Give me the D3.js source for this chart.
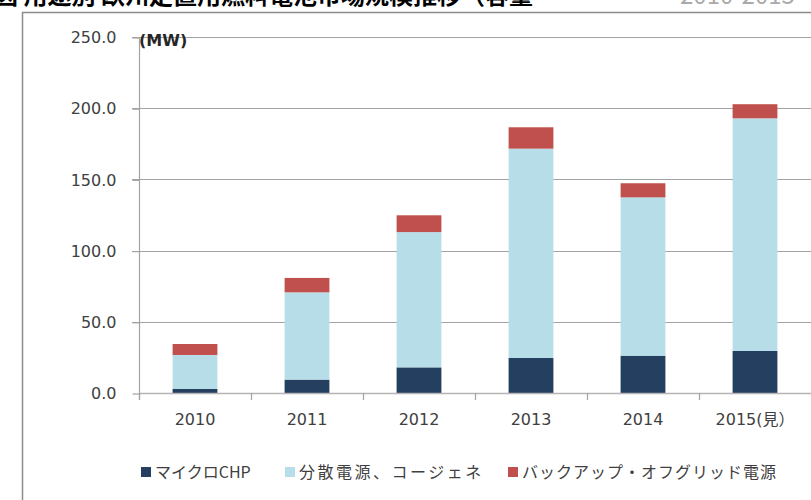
<!DOCTYPE html>
<html>
<head>
<meta charset="utf-8">
<script src="https://cdn.jsdelivr.net/npm/d3@7"></script>
<style>
  body { margin: 0; background: #fff; }
  svg { display: block; }
</style>
</head>
<body>
<script>
var years = ["2010", "2011", "2012", "2013", "2014", "2015(見）"];
var microChp = [2.8, 9.4, 18.0, 24.6, 26.2, 29.5];
var distributed = [23.9, 61.3, 95.0, 147.0, 111.2, 163.4];
var backup = [7.7, 10.1, 11.8, 15.0, 9.9, 9.9];
var seriesNames = ["マイクロCHP", "分散電源、コージェネ", "バックアップ・オフグリッド電源"];
var seriesColors = ["#243f60", "#b7dee8", "#c0504d"];
var yTicks = [0, 50, 100, 150, 200, 250];

var width = 811, height = 500;
var svg = d3.select("body").append("svg").attr("width", width).attr("height", height);

// title, cut off at the top edge like the source image
svg.append("text").attr("x", -6).attr("y", 4)
  .attr("font-family", "Noto Sans CJK JP").attr("font-weight", "bold").attr("font-size", 24)
  .attr("fill", "#000")
  .text("図 用途別 欧州定置用燃料電池市場規模推移（容量");
svg.append("text").attr("x", 680).attr("y", 4)
  .attr("font-family", "Noto Sans CJK JP").attr("font-size", 24)
  .attr("fill", "#aaa")
  .text("2010-2015");

// outer frame
svg.append("path").attr("d", "M22.5,520V12.5H830")
  .attr("fill", "none").attr("stroke", "#8c8c8c").attr("stroke-width", 1.5);

var plotLeft = 139, plotTop = 37, plotBottom = 393, plotRight = 811;

var x = d3.scaleBand().domain(years).range([plotLeft, plotRight]).paddingInner(0.6).paddingOuter(0.3);
var xOuter = d3.scaleBand().domain(years).range([plotLeft, plotRight]);
var y = d3.scaleLinear().domain([0, 250]).range([plotBottom, plotTop]);

var rows = years.map(function(d, i) {
  return { year: d, micro: microChp[i], dist: distributed[i], backup: backup[i] };
});
var stack = d3.stack().keys(["micro", "dist", "backup"]);
var layers = stack(rows);

var fontNum = "DejaVu Sans";
var textColor = "#404040";

// gridlines
svg.append("g").selectAll("line").data(yTicks.filter(function(d){ return d > 0; })).enter()
  .append("line")
  .attr("x1", plotLeft - 7).attr("x2", plotRight)
  .attr("y1", function(d){ return Math.round(y(d)) + 0.5; })
  .attr("y2", function(d){ return Math.round(y(d)) + 0.5; })
  .attr("stroke", "#a3a3a3").attr("stroke-width", 1.2);

// y axis
var yAxis = d3.axisLeft(y).tickValues(yTicks).tickSize(7).tickPadding(16)
  .tickFormat(function(d){ return d3.format(".1f")(d); });
var gy = svg.append("g").attr("transform", "translate(" + (plotLeft + 0.5) + ",0.5)").call(yAxis);
gy.select(".domain").remove();
gy.selectAll(".tick line").attr("stroke", "#a3a3a3").attr("stroke-width", 1.2);
gy.selectAll(".tick text").attr("font-family", fontNum).attr("font-size", 16).attr("fill", textColor);
svg.append("line").attr("x1", plotLeft + 0.5).attr("x2", plotLeft + 0.5).attr("y1", plotTop).attr("y2", plotBottom + 7)
  .attr("stroke", "#a3a3a3").attr("stroke-width", 1.2);

// bars
svg.append("g").selectAll("g").data(layers).enter().append("g")
  .attr("fill", function(d, i){ return seriesColors[i]; })
  .selectAll("rect").data(function(d){ return d; }).enter().append("rect")
  .attr("x", function(d){ return x(d.data.year); })
  .attr("width", x.bandwidth())
  .attr("y", function(d){ return y(d[1]); })
  .attr("height", function(d){ return y(d[0]) - y(d[1]); });

// x axis
svg.append("line").attr("x1", plotLeft).attr("x2", plotRight).attr("y1", plotBottom + 0.5).attr("y2", plotBottom + 0.5)
  .attr("stroke", "#b5b5b5").attr("stroke-width", 1.5);
svg.append("g").selectAll("line").data(years).enter().append("line")
  .attr("x1", function(d){ return Math.round(xOuter(d)) + 0.5; })
  .attr("x2", function(d){ return Math.round(xOuter(d)) + 0.5; })
  .attr("y1", plotBottom).attr("y2", plotBottom + 7)
  .attr("stroke", "#a3a3a3").attr("stroke-width", 1.2);
svg.append("g").selectAll("text").data(years).enter().append("text")
  .attr("x", function(d){ return xOuter(d) + xOuter.bandwidth() / 2; })
  .attr("y", 425)
  .attr("text-anchor", "middle")
  .attr("font-family", fontNum + ", Noto Sans CJK JP").attr("font-size", 16).attr("fill", textColor)
  .text(function(d){ return d; });

// unit label
svg.append("text").attr("x", 139).attr("y", 46)
  .attr("font-family", fontNum).attr("font-weight", "bold").attr("font-size", 16).attr("fill", "#262626")
  .text("(MW)");

// legend
var legendX = [141, 285, 508];
var legend = svg.append("g").selectAll("g").data(seriesNames).enter().append("g")
  .attr("transform", function(d, i){ return "translate(" + legendX[i] + ",467)"; });
legend.append("rect").attr("width", 10).attr("height", 10)
  .attr("fill", function(d, i){ return seriesColors[i]; });
legend.append("text").attr("x", 14).attr("y", 10.5)
  .attr("font-family", "Noto Sans CJK JP").attr("font-size", 16).attr("fill", textColor)
  .attr("letter-spacing", function(d, i){ return i === 0 ? 0 : (i === 1 ? 2.5 : 1); })
  .text(function(d){ return d; });
</script>
</body>
</html>
